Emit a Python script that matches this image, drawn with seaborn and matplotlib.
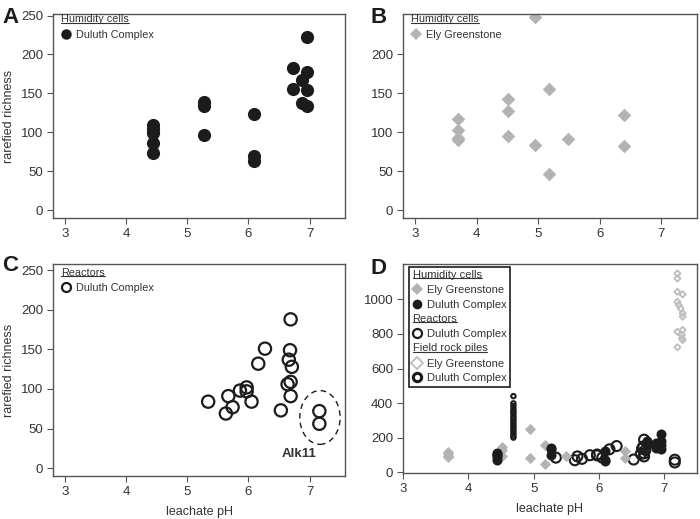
import matplotlib
matplotlib.use("Agg")
import matplotlib.pyplot as plt
import seaborn as sns
import pandas as pd
from matplotlib.legend_handler import HandlerBase
from matplotlib.text import Text
from matplotlib.lines import Line2D
from matplotlib.transforms import IdentityTransform
from matplotlib.patches import Ellipse

# ---------------- data ----------------
hc_duluth_ph = [4.44, 4.44, 4.44, 4.44, 4.44, 5.27, 5.27, 5.27, 6.09, 6.09, 6.09,
                6.73, 6.73, 6.88, 6.88, 6.95, 6.95, 6.95, 6.95]
hc_duluth_rich = [110, 104, 99, 86, 73, 139, 134, 97, 123, 70, 63,
                  183, 156, 167, 138, 223, 178, 155, 134]

hc_ely_ph = [3.69, 3.69, 3.69, 3.69, 4.51, 4.51, 4.51, 4.94, 4.94, 5.17, 5.17, 5.49, 6.40, 6.40]
hc_ely_rich = [117, 103, 93, 90, 143, 128, 95, 248, 84, 156, 46, 91, 122, 82]

reactor_ph = [5.34, 5.63, 5.67, 5.74, 5.86, 5.97, 5.97, 6.05, 6.16, 6.27, 6.53,
              6.69, 6.68, 6.66, 6.71, 6.64, 6.69, 6.69, 7.16, 7.16]
reactor_rich = [84, 69, 91, 77, 98, 102, 97, 84, 132, 151, 73,
                188, 149, 137, 128, 106, 109, 91, 72, 56]

field_duluth_ph = [4.69] * 16
field_duluth_rich = [440, 398, 382, 365, 350, 338, 322, 310, 296, 282, 268, 255, 240, 226, 212, 200]

field_ely_ph = [7.20, 7.20, 7.20, 7.28, 7.20, 7.22, 7.25, 7.28, 7.28, 7.20, 7.28, 7.27, 7.28, 7.27, 7.20]
field_ely_rich = [1150, 1121, 1044, 1029, 986, 967, 948, 919, 900, 813, 823, 794, 765, 775, 723]

x_ticks = [3, 4, 5, 6, 7]
y_ticks_small = [0, 50, 100, 150, 200, 250]
y_ticks_d = [0, 200, 400, 600, 800, 1000]

# ---------------- style ----------------
sns.set_style("ticks")
plt.rcParams["font.family"] = ["Liberation Sans", "DejaVu Sans"]

BLACK = "#1c1c1c"
GREY = "#b3b3b3"
LGREY = "#bdbdbd"
AXC = "#555555"
TXT = "#333333"


class Heading:
    def __init__(self, text):
        self.text = text


class UnderlinedText(Text):
    def draw(self, renderer):
        super().draw(renderer)
        bb = self.get_window_extent(renderer)
        y = bb.y0 + 1.6
        ln = Line2D([bb.x0, bb.x1], [y, y], transform=IdentityTransform(),
                    color=self.get_color(), linewidth=0.8)
        ln.set_figure(self.figure)
        ln.draw(renderer)


class HeadingHandler(HandlerBase):
    def create_artists(self, legend, orig_handle, xdescent, ydescent, width, height, fontsize, trans):
        t = UnderlinedText(-xdescent, height / 2 - ydescent, orig_handle.text, ha="left", va="center",
                           fontsize=fontsize, color=TXT, transform=trans)
        return [t]


def style_axes(ax):
    for sp in ax.spines.values():
        sp.set_visible(True)
        sp.set_color(AXC)
        sp.set_linewidth(1.0)
    ax.tick_params(axis="both", direction="out", length=4, width=0.8, color=AXC,
                   labelsize=9.5, labelcolor=TXT, pad=3)


fig = plt.figure(figsize=(7.0, 5.19), dpi=100)
axA = fig.add_axes([53 / 700, 1 - 218 / 519, 292 / 700, 204 / 519])
axB = fig.add_axes([403 / 700, 1 - 218 / 519, 294 / 700, 204 / 519])
axC = fig.add_axes([53 / 700, 1 - 476 / 519, 292 / 700, 212 / 519])
axD = fig.add_axes([403 / 700, 1 - 473 / 519, 294 / 700, 209 / 519])

dfA = pd.DataFrame({"ph": hc_duluth_ph, "rich": hc_duluth_rich})
dfB = pd.DataFrame({"ph": hc_ely_ph, "rich": hc_ely_rich})
dfC = pd.DataFrame({"ph": reactor_ph, "rich": reactor_rich})
dfFD = pd.DataFrame({"ph": field_duluth_ph, "rich": field_duluth_rich})
dfFE = pd.DataFrame({"ph": field_ely_ph, "rich": field_ely_rich})

# Panel A
sns.scatterplot(data=dfA, x="ph", y="rich", ax=axA, marker="o", s=90, color=BLACK,
                edgecolor=BLACK, linewidth=0)
# Panel B
sns.scatterplot(data=dfB, x="ph", y="rich", ax=axB, marker="D", s=48, color=GREY,
                edgecolor=GREY, linewidth=0)
# Panel C
sns.scatterplot(data=dfC, x="ph", y="rich", ax=axC, marker="o", s=78, facecolor="none",
                edgecolor=BLACK, linewidth=1.6)
axC.add_patch(Ellipse((7.17, 64), 0.66, 68, fill=False, linestyle=(0, (4, 3)),
                      edgecolor=BLACK, linewidth=1.0))
axC.text(6.82, 18, "Alk11", ha="center", va="center", fontsize=9.5, fontweight="bold", color=TXT)

# Panel D
sns.scatterplot(data=dfC, x="ph", y="rich", ax=axD, marker="o", s=52, facecolor="none",
                edgecolor=BLACK, linewidth=1.5, zorder=2)
sns.scatterplot(data=dfB, x="ph", y="rich", ax=axD, marker="D", s=32, color=GREY,
                edgecolor=GREY, linewidth=0, zorder=3)
sns.scatterplot(data=dfA, x="ph", y="rich", ax=axD, marker="o", s=52, color=BLACK,
                edgecolor=BLACK, linewidth=0, zorder=4)
sns.scatterplot(data=dfFD, x="ph", y="rich", ax=axD, marker="o", s=10, facecolor="none",
                edgecolor=BLACK, linewidth=1.5, zorder=5)
sns.scatterplot(data=dfFE, x="ph", y="rich", ax=axD, marker="D", s=10, facecolor="none",
                edgecolor=LGREY, linewidth=1.3, zorder=5)

for ax in (axA, axB, axC):
    ax.set_xlim(2.8, 7.58)
    ax.set_ylim(-10, 252)
    ax.set_yticks(y_ticks_small)
    ax.set_xticks(x_ticks)
axC.set_ylim(-10, 258)
axB.set_yticks(y_ticks_small[:-1])
axD.set_xlim(3.0, 7.5)
axD.set_ylim(-5, 1205)
axD.set_xticks(x_ticks)
axD.set_yticks(y_ticks_d)

for ax in (axA, axB, axC, axD):
    style_axes(ax)
    ax.set_xlabel("")
    ax.set_ylabel("")

axA.set_ylabel("rarefied richness", fontsize=9, color=TXT, labelpad=4)
axC.set_ylabel("rarefied richness", fontsize=9, color=TXT, labelpad=4)
axC.set_xlabel("leachate pH", fontsize=9, color=TXT, labelpad=6)
axD.set_xlabel("leachate pH", fontsize=9, color=TXT, labelpad=6)

hmap = {Heading: HeadingHandler()}


def mk(marker, size, fc, ec, mew):
    return plt.Line2D([], [], linestyle="none", marker=marker, markersize=size,
                      markerfacecolor=fc, markeredgecolor=ec, markeredgewidth=mew)


def simple_legend(ax, heading, handle, label, top):
    leg = ax.legend([Heading(heading), handle], ["", label], handler_map=hmap,
                    loc="upper left", bbox_to_anchor=(0.014, top), frameon=False,
                    fontsize=7.8, handlelength=0.8, handletextpad=0.5, labelspacing=0.4,
                    borderaxespad=0.2, borderpad=0.2)
    for t in leg.get_texts():
        t.set_color(TXT)


simple_legend(axA, "Humidity cells", mk("o", 7.5, BLACK, BLACK, 0), "Duluth Complex", 1.015)
simple_legend(axB, "Humidity cells", mk("D", 6.5, GREY, GREY, 0), "Ely Greenstone", 1.015)
simple_legend(axC, "Reactors", mk("o", 6.5, "none", BLACK, 1.6), "Duluth Complex", 0.998)

handlesD = [Heading("Humidity cells"), mk("D", 6.5, GREY, GREY, 0), mk("o", 7, BLACK, BLACK, 0),
            Heading("Reactors"), mk("o", 6.5, "none", BLACK, 1.6),
            Heading("Field rock piles"), mk("D", 6, "none", LGREY, 1.3), mk("o", 6, "none", BLACK, 2.2)]
labelsD = ["", "Ely Greenstone", "Duluth Complex", "", "Duluth Complex", "", "Ely Greenstone", "Duluth Complex"]
legD = axD.legend(handlesD, labelsD, handler_map=hmap, loc="upper left",
                  bbox_to_anchor=(0.01, 1.0), frameon=True,
                  fontsize=8, handlelength=0.8, handletextpad=0.5, labelspacing=0.42,
                  borderaxespad=0.3, borderpad=0.3, fancybox=False, framealpha=1)
legD.get_frame().set_edgecolor(BLACK)
legD.get_frame().set_linewidth(1.2)
for t in legD.get_texts():
    t.set_color(TXT)

for lab, (xp, yp) in zip("ABCD", [(2, 23), (370, 23), (2, 271), (370, 274)]):
    fig.text(xp / 700, 1 - yp / 519, lab, fontsize=16, fontweight="bold", color=BLACK,
             va="baseline", ha="left")

fig.savefig("out.png", dpi=100)
